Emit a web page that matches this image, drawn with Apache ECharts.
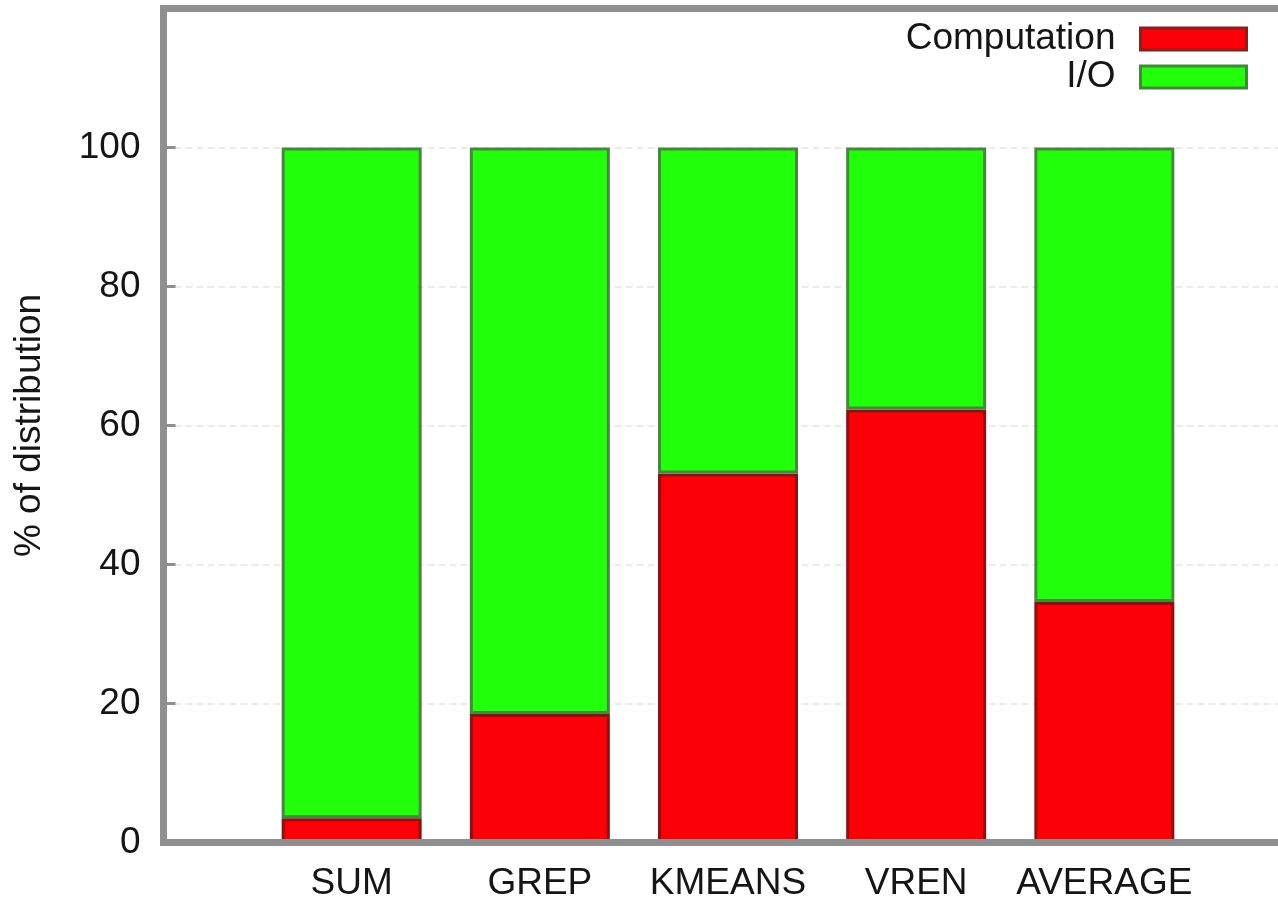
<!DOCTYPE html>
<html>
<head>
<meta charset="utf-8">
<title>% of distribution</title>
<script src="https://cdn.jsdelivr.net/npm/echarts@6/dist/echarts.min.js"></script>
<style>
  html, body { margin: 0; padding: 0; background: #ffffff; }
  #chart { width: 1278px; height: 897px; }
</style>
</head>
<body>
<div id="chart"></div>
<script>
// Workload categories
const categories = ['SUM', 'GREP', 'KMEANS', 'VREN', 'AVERAGE'];
// Share of run time (%) per workload
const computation = [3.5, 18.5, 53.1, 62.3, 34.6];
const io = [96.5, 81.5, 46.9, 37.7, 65.4];
// Y axis tick labels
const yTicks = [0, 20, 40, 60, 80, 100];

const FONT = '"Liberation Sans", Arial, sans-serif';
const TEXT = '#151515';
const FRAME = '#8f8f8f';

// Pad the category axis with one empty slot on each side so the
// frame runs from -1 to 5 in category units.
const axisCats = [''].concat(categories, ['']);
const pad = arr => [null].concat(arr, [null]);

const chart = echarts.init(document.getElementById('chart'), null, { renderer: 'canvas' });

chart.setOption({
  animation: false,
  backgroundColor: '#ffffff',
  textStyle: { fontFamily: FONT },
  grid: {
    left: 163.5, top: 8.5, width: 1129, height: 834,
    outerBoundsMode: 'none',
    containLabel: false,
    show: true, borderColor: FRAME, borderWidth: 7, backgroundColor: 'transparent'
  },
  legend: {
    orient: 'vertical',
    right: 25,
    top: 15,
    align: 'right',
    itemWidth: 106,
    itemHeight: 22,
    itemGap: 0,
    icon: 'rect',
    selectedMode: false,
    textStyle: {
      fontFamily: FONT, fontSize: 37, color: TEXT, lineHeight: 34,
      padding: [4, 20, 0, 0]
    },
    data: [
      { name: 'Computation', itemStyle: { borderColor: '#8a1f1f', borderWidth: 3 } },
      { name: 'I/O', itemStyle: { borderColor: '#3f8a35', borderWidth: 3 } }
    ]
  },
  xAxis: {
    type: 'category',
    data: axisCats,
    boundaryGap: false,
    axisLine: { show: true, lineStyle: { color: FRAME, width: 7 } },
    axisTick: { show: false },
    axisLabel: { fontFamily: FONT, fontSize: 37, color: TEXT, margin: 23, interval: 0 },
    splitLine: { show: false },
    z: 5
  },
  yAxis: {
    type: 'value',
    min: 0, max: 120, interval: 20,
    name: '% of distribution',
    nameLocation: 'middle',
    nameGap: 115,
    nameRotate: 90,
    nameTextStyle: { fontFamily: FONT, fontSize: 37, color: TEXT },
    axisLine: { show: true, lineStyle: { color: FRAME, width: 7 } },
    axisTick: { show: true, inside: true, length: 12, lineStyle: { color: FRAME, width: 3 } },
    axisLabel: {
      fontFamily: FONT, fontSize: 37, color: TEXT, margin: 23,
      formatter: v => (yTicks.indexOf(v) >= 0 ? String(v) : '')
    },
    splitLine: {
      show: true,
      showMinLine: false,
      showMaxLine: false,
      lineStyle: { color: '#ebebeb', width: 2, type: [7, 4] }
    }
  },
  series: [
    {
      name: 'Computation',
      type: 'bar',
      stack: 'total',
      barWidth: 140,
      data: pad(computation),
      itemStyle: { color: '#fc0007', borderColor: '#8a1212', borderWidth: 3 }
    },
    {
      name: 'I/O',
      type: 'bar',
      stack: 'total',
      barWidth: 140,
      data: pad(io),
      itemStyle: { color: '#22ff0a', borderColor: '#46883c', borderWidth: 3 }
    }
  ]
});
</script>
</body>
</html>
